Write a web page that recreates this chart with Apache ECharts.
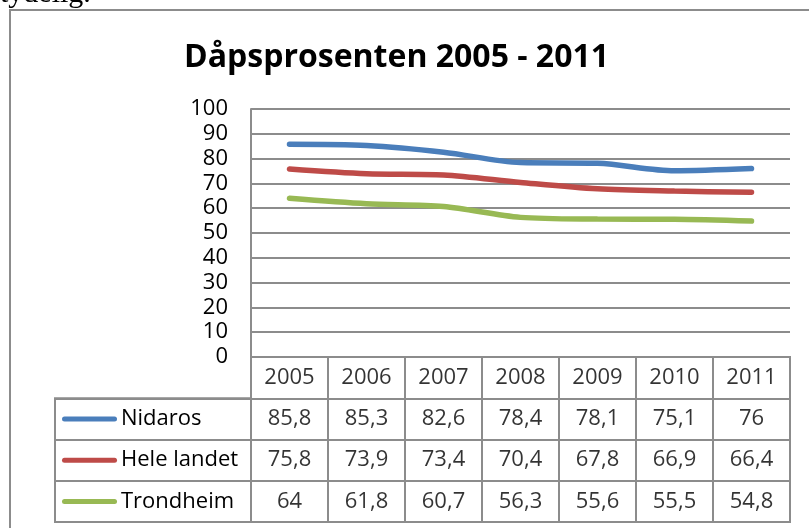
<!DOCTYPE html>
<html>
<head>
<meta charset="utf-8">
<script src="https://cdn.jsdelivr.net/npm/echarts@6/dist/echarts.min.js"></script>
<style>
  html, body { margin: 0; padding: 0; background: #fff; }
  #main { width: 809px; height: 528px; }
</style>
</head>
<body>
<div id="main"></div>
<script>
// data
const years = ['2005', '2006', '2007', '2008', '2009', '2010', '2011'];
const seriesNames = ['Nidaros', 'Hele landet', 'Trondheim'];
const nidaros = [85.8, 85.3, 82.6, 78.4, 78.1, 75.1, 76];
const heleLandet = [75.8, 73.9, 73.4, 70.4, 67.8, 66.9, 66.4];
const trondheim = [64, 61.8, 60.7, 56.3, 55.6, 55.5, 54.8];
const yMin = 0, yMax = 100, yStep = 10;

const colors = ['#4a7ebb', '#be4b48', '#98b954'];
const gridGray = '#8c8c8c';
const font = 'Open Sans';
const allValues = [nidaros, heleLandet, trondheim];

const fmt = v => String(v).replace('.', ',');

// table cells: header row + one row per series
const tableCells = [];
years.forEach((y, i) => tableCells.push({ value: [i, 0], label: { formatter: y } }));
allValues.forEach((arr, r) => {
  arr.forEach((v, i) => tableCells.push({ value: [i, r + 1], label: { formatter: fmt(v) } }));
});

const rich = { t: { fontFamily: font, fontSize: 22, color: '#000', padding: [0, 0, 0, 4] } };
colors.forEach((c, i) => {
  rich['l' + i] = { backgroundColor: c, width: 55, height: 5, borderRadius: 3 };
});

const chart = echarts.init(document.getElementById('main'));
chart.setOption({
  backgroundColor: '#fff',
  animation: false,
  title: {
    text: 'Dåpsprosenten 2005 - 2011',
    left: 179,
    top: 37,
    textStyle: { fontFamily: font, fontSize: 32, fontWeight: 'bold', color: '#000' }
  },
  graphic: [
    {
      type: 'rect',
      shape: { x: 10, y: 10, width: 803, height: 540 },
      style: { fill: 'none', stroke: gridGray, lineWidth: 2 }
    },
    {
      type: 'text',
      x: 0, y: 9,
      style: { text: 'tydelig.', font: '30px "Liberation Serif"', fill: '#000', textVerticalAlign: 'bottom' }
    }
  ],
  grid: [
    { left: 251, right: 19, top: 109, height: 248 },
    { left: 251, right: 19, top: 357, height: 165, show: true, borderColor: gridGray, borderWidth: 2 },
    { left: 55, width: 196, top: 398.25, height: 123.75, show: true, borderColor: gridGray, borderWidth: 2 }
  ],
  xAxis: [
    {
      gridIndex: 0, type: 'category', data: years, boundaryGap: true,
      axisLine: { lineStyle: { color: gridGray, width: 2 } },
      axisTick: { show: false }, axisLabel: { show: false }
    },
    {
      gridIndex: 1, type: 'category', data: years, boundaryGap: true,
      axisLine: { show: false }, axisTick: { show: false }, axisLabel: { show: false },
      splitLine: { show: true, lineStyle: { color: gridGray, width: 2 } }
    },
    { gridIndex: 2, type: 'value', show: false }
  ],
  yAxis: [
    {
      gridIndex: 0, type: 'value', min: yMin, max: yMax, interval: yStep,
      axisLine: { show: true, lineStyle: { color: gridGray, width: 2 } },
      axisTick: { show: false },
      axisLabel: { fontFamily: font, fontSize: 22, color: '#000', margin: 23 },
      splitLine: { lineStyle: { color: gridGray, width: 2 } }
    },
    {
      gridIndex: 1, type: 'category', inverse: true, data: [''].concat(seriesNames),
      axisLine: { show: false }, axisTick: { show: false }, axisLabel: { show: false },
      splitLine: { show: true, lineStyle: { color: gridGray, width: 2 } }
    },
    {
      gridIndex: 2, type: 'category', inverse: true, data: seriesNames,
      axisLine: { show: false }, axisTick: { show: false },
      axisLabel: {
        inside: true, margin: 7,
        formatter: (v, i) => '{l' + i + '|}{t|' + v + '}',
        rich: rich
      },
      splitLine: { show: true, lineStyle: { color: gridGray, width: 2 } }
    }
  ],
  series: seriesNames.map((name, i) => ({
    name: name,
    type: 'line',
    xAxisIndex: 0, yAxisIndex: 0,
    data: allValues[i],
    smooth: 0.3,
    symbol: 'none',
    lineStyle: { color: colors[i], width: 5.5, cap: 'round' },
    z: 3
  })).concat([{
    type: 'scatter',
    xAxisIndex: 1, yAxisIndex: 1,
    symbolSize: 0,
    data: tableCells,
    label: {
      show: true, position: 'inside',
      fontFamily: font, fontSize: 22, color: '#000'
    },
    silent: true
  }])
});
</script>
</body>
</html>
